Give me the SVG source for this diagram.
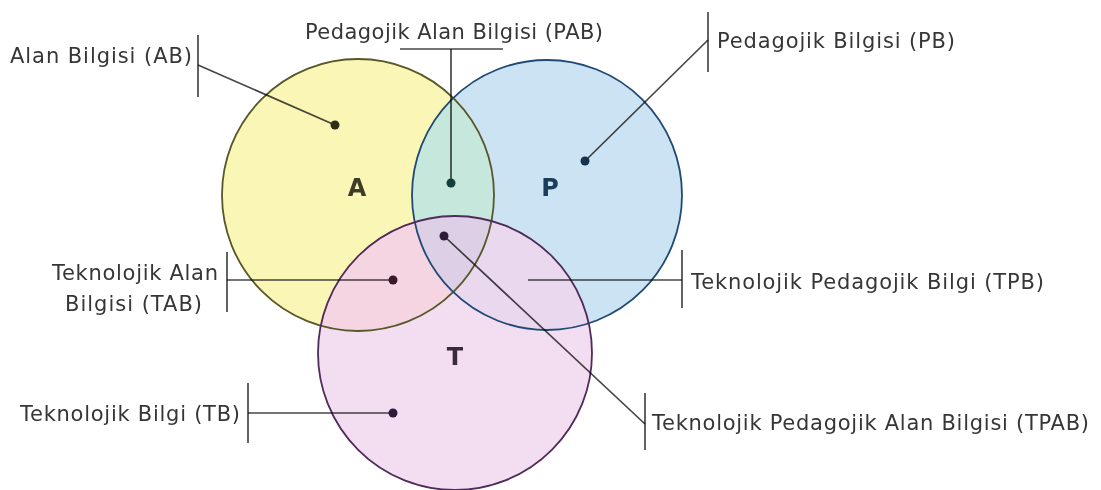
<svg xmlns="http://www.w3.org/2000/svg" width="1101" height="490" viewBox="0 0 1101 490">
<style>
.lbl{font-family:"DejaVu Sans","Liberation Sans",sans-serif;font-size:21px;fill:#363636}
.big{font-family:"DejaVu Sans","Liberation Sans",sans-serif;font-size:24px;font-weight:bold;text-anchor:middle}
.ln{stroke:#474747;stroke-width:1.7;fill:none;mix-blend-mode:multiply}
.bar{stroke:#474747;stroke-width:1.7;fill:none}
.ol{fill:none;stroke-width:1.8}
</style>
<defs>
  <clipPath id="clipA"><circle cx="358" cy="195" r="136"/></clipPath>
  <clipPath id="clipP"><circle cx="547" cy="195" r="135"/></clipPath>
</defs>
<rect width="1101" height="490" fill="#ffffff"/>
<g id="circles">
  <g id="node-A"><circle cx="358" cy="195" r="136" fill="#faf6b6"/></g>
  <g id="node-P">
    <circle cx="547" cy="195" r="135" fill="rgb(179,213,238)" fill-opacity="0.68"/>
    <circle cx="547" cy="195" r="135" fill="#c6e8dc" clip-path="url(#clipA)"/>
  </g>
  <g id="node-T">
    <circle cx="455" cy="353" r="137" fill="rgb(240,212,236)" fill-opacity="0.8"/>
    <circle cx="455" cy="353" r="137" fill="#f6d5e2" clip-path="url(#clipA)"/>
    <g clip-path="url(#clipP)">
      <circle cx="455" cy="353" r="137" fill="#ddd0e6" clip-path="url(#clipA)"/>
    </g>
  </g>
</g>
<g id="outlines">
  <circle class="ol" cx="358" cy="195" r="136" stroke="#575728"/>
  <circle class="ol" cx="547" cy="195" r="135" stroke="#204a75"/>
  <circle class="ol" cx="455" cy="353" r="137" stroke="#4e2b5a"/>
</g>
<g id="connectors">
  <line class="bar" x1="198" y1="35" x2="198" y2="97"/>
  <line class="ln" x1="198" y1="65" x2="335" y2="125"/>
  <line class="bar" x1="400" y1="49" x2="503" y2="49"/>
  <line class="ln" x1="451" y1="49" x2="451" y2="183"/>
  <line class="bar" x1="708" y1="12" x2="708" y2="72"/>
  <line class="ln" x1="708" y1="40" x2="585" y2="161"/>
  <line class="bar" x1="227" y1="252" x2="227" y2="312"/>
  <line class="ln" x1="227" y1="280" x2="393" y2="280"/>
  <line class="bar" x1="682" y1="250" x2="682" y2="308"/>
  <line class="ln" x1="528" y1="280" x2="682" y2="280"/>
  <line class="bar" x1="248" y1="383" x2="248" y2="443"/>
  <line class="ln" x1="248" y1="413" x2="393" y2="413"/>
  <line class="bar" x1="645" y1="393" x2="645" y2="450"/>
  <line class="ln" x1="444" y1="236" x2="645" y2="424"/>
</g>
<g id="dots">
  <circle cx="335" cy="125" r="4.5" fill="#2e2e14"/>
  <circle cx="451" cy="183" r="4.5" fill="#163c3c"/>
  <circle cx="585" cy="161" r="4.5" fill="#17324d"/>
  <circle cx="444" cy="236" r="4.5" fill="#2e1a3a"/>
  <circle cx="393" cy="280" r="4.5" fill="#3a1a2a"/>
  <circle cx="393" cy="413" r="4.5" fill="#2e1a3c"/>
</g>
<g id="letters">
  <text class="big" x="357" y="196" fill="#3c3c28">A</text>
  <text class="big" x="550" y="196" fill="#1c3d5a">P</text>
  <text class="big" x="455" y="365" fill="#3a2a3a">T</text>
</g>
<g id="labels">
  <g id="label-AB"><text class="lbl" x="10" y="63" textLength="182" lengthAdjust="spacing">Alan Bilgisi (AB)</text></g>
  <g id="label-PAB"><text class="lbl" x="305" y="39" textLength="298" lengthAdjust="spacing">Pedagojik Alan Bilgisi (PAB)</text></g>
  <g id="label-PB"><text class="lbl" x="717" y="48" textLength="238" lengthAdjust="spacing">Pedagojik Bilgisi (PB)</text></g>
  <g id="label-TAB">
    <text class="lbl" x="52" y="280" textLength="166" lengthAdjust="spacing">Teknolojik Alan</text>
    <text class="lbl" x="65" y="311" textLength="137" lengthAdjust="spacing">Bilgisi (TAB)</text>
  </g>
  <g id="label-TPB"><text class="lbl" x="691" y="289" textLength="353" lengthAdjust="spacing">Teknolojik Pedagojik Bilgi (TPB)</text></g>
  <g id="label-TB"><text class="lbl" x="20" y="421" textLength="220" lengthAdjust="spacing">Teknolojik Bilgi (TB)</text></g>
  <g id="label-TPAB"><text class="lbl" x="652" y="430" textLength="437" lengthAdjust="spacing">Teknolojik Pedagojik Alan Bilgisi (TPAB)</text></g>
</g>
</svg>
